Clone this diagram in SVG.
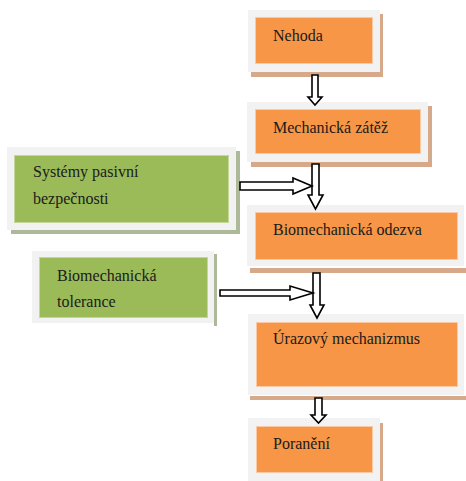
<svg xmlns="http://www.w3.org/2000/svg" width="466" height="481" viewBox="0 0 466 481">
<style>
.frame{fill:#F2F2F2}
.shO{fill:#D6A98A}
.shG{fill:#AEB99A}
.or{fill:#F79646;stroke:#FBC9A4;stroke-width:1}
.gr{fill:#9BBB59;stroke:#C3D79B;stroke-width:1}
text{font-family:'Liberation Serif','Times New Roman',serif;font-size:16px;fill:#1a1a1a}
.arr{fill:#fff;stroke:#000;stroke-width:1.6;stroke-linejoin:miter}
</style>
<rect width="466" height="481" fill="#fff"/>
<g id="nehoda">
<rect class="shO" x="251" y="14" width="132" height="63"/>
<rect class="frame" x="248" y="10" width="132" height="62"/>
<rect class="or" x="255.5" y="17.5" width="117" height="46"/>
<text x="273" y="41">Nehoda</text>
</g>
<g id="mechanicka-zatez">
<rect class="shO" x="251" y="106" width="181" height="61"/>
<rect class="frame" x="247" y="102" width="181" height="60"/>
<rect class="or" x="255.5" y="109.5" width="165" height="44"/>
<text x="273" y="133">Mechanická zátěž</text>
</g>
<g id="systemy">
<rect class="shG" x="11" y="151" width="229" height="83"/>
<rect class="frame" x="7" y="147" width="229" height="83"/>
<rect class="gr" x="14.5" y="155.5" width="214" height="67"/>
<text x="33" y="177">Systémy pasivní</text>
<text x="33" y="204">bezpečnosti</text>
</g>
<g id="biomechanicka-odezva">
<rect class="shO" x="250" y="268" width="216" height="5"/>
<rect class="frame" x="247" y="205" width="217" height="61"/>
<rect class="or" x="255.5" y="212.5" width="202" height="47"/>
<text x="273" y="235">Biomechanická odezva</text>
</g>
<g id="biomechanicka-tolerance">
<rect class="shG" x="214" y="254" width="3" height="72"/>
<rect class="frame" x="32" y="251" width="182" height="72"/>
<rect class="gr" x="39.5" y="257.5" width="168" height="60"/>
<text x="57" y="281">Biomechanická</text>
<text x="57" y="307">tolerance</text>
</g>
<g id="urazovy-mechanizmus">
<rect class="shO" x="250" y="396" width="216" height="4"/>
<rect class="frame" x="248" y="314" width="216" height="81"/>
<rect class="or" x="256.5" y="322.5" width="201" height="64"/>
<text x="273" y="344">Úrazový mechanizmus</text>
</g>
<g id="poraneni">
<rect class="shO" x="380" y="423" width="3" height="58"/>
<rect class="frame" x="248" y="418" width="132" height="63"/>
<rect class="or" x="256.5" y="426.5" width="116" height="46"/>
<text x="273" y="449">Poranění</text>
</g>
<g id="connectors">
<polygon class="arr" points="312,75 318,75 318,97 322,97 315,105 308,97 312,97"/>
<polygon class="arr" points="312,164 319,164 319,195 323,195 315.5,209 308,195 312,195"/>
<polygon class="arr" points="240,182 293,182 293,178 312,186 293,194 293,190 240,190"/>
<polygon class="arr" points="313,273 320,273 320,305 324,305 317,318 310,305 313,305"/>
<polygon class="arr" points="220,290 290,290 290,286 313,293 290,300 290,296 220,296"/>
<polygon class="arr" points="315,398 322,398 322,415 326,415 318.5,423 311,415 315,415"/>
</g>
</svg>
